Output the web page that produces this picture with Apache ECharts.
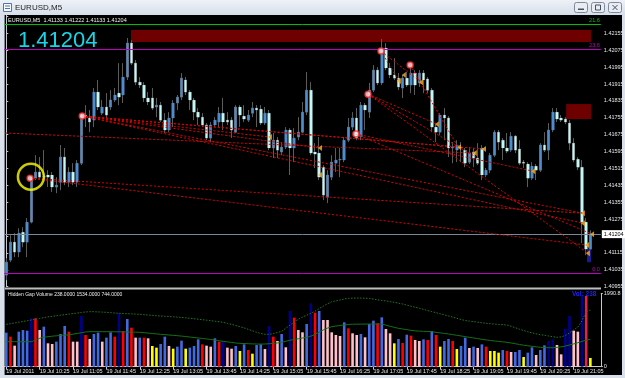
<!DOCTYPE html>
<html>
<head>
<meta charset="utf-8">
<script src="https://cdn.jsdelivr.net/npm/echarts@6/dist/echarts.min.js"></script>
<style>
html,body{margin:0;padding:0;background:#d9e0ea;}
#chart{width:625px;height:378px;}
</style>
</head>
<body>
<div id="chart"></div>
<script>
// EURUSD M5, 19 Jul 2011, 09:45 - 21:25
var times = [
  '09:45','09:50','09:55',
  '10:00','10:05','10:10','10:15','10:20','10:25','10:30','10:35','10:40','10:45','10:50','10:55',
  '11:00','11:05','11:10','11:15','11:20','11:25','11:30','11:35','11:40','11:45','11:50','11:55',
  '12:00','12:05','12:10','12:15','12:20','12:25','12:30','12:35','12:40','12:45','12:50','12:55',
  '13:00','13:05','13:10','13:15','13:20','13:25','13:30','13:35','13:40','13:45','13:50','13:55',
  '14:00','14:05','14:10','14:15','14:20','14:25','14:30','14:35','14:40','14:45','14:50','14:55',
  '15:00','15:05','15:10','15:15','15:20','15:25','15:30','15:35','15:40','15:45','15:50','15:55',
  '16:00','16:05','16:10','16:15','16:20','16:25','16:30','16:35','16:40','16:45','16:50','16:55',
  '17:00','17:05','17:10','17:15','17:20','17:25','17:30','17:35','17:40','17:45','17:50','17:55',
  '18:00','18:05','18:10','18:15','18:20','18:25','18:30','18:35','18:40','18:45','18:50','18:55',
  '19:00','19:05','19:10','19:15','19:20','19:25','19:30','19:35','19:40','19:45','19:50','19:55',
  '20:00','20:05','20:10','20:15','20:20','20:25','20:30','20:35','20:40','20:45','20:50','20:55',
  '21:00','21:05','21:10','21:15','21:20','21:25'
];
var spareTimes = ['21:30', '21:35'];   // empty space right of the last bar

var tickLabels = ['19 Jul 2011','19 Jul 10:25','19 Jul 11:05','19 Jul 11:45','19 Jul 12:25','19 Jul 13:05',
  '19 Jul 13:45','19 Jul 14:25','19 Jul 15:05','19 Jul 15:45','19 Jul 16:25','19 Jul 17:05',
  '19 Jul 17:45','19 Jul 18:25','19 Jul 19:05','19 Jul 19:45','19 Jul 20:25','19 Jul 21:05'];

var opens = [
  1.41010,1.41081,1.41166,1.41119,1.41213,1.41166,1.41261,1.41469,1.41498,1.41474,
  1.41484,1.41484,1.41427,1.41450,1.41569,1.41450,1.41498,1.41450,1.41540,1.41768,
  1.41754,1.41744,1.41877,1.41777,1.41806,1.41806,1.41839,1.41872,1.41863,1.41948,
  1.42109,1.42014,1.41924,1.41910,1.41849,1.41849,1.41806,1.41815,1.41744,1.41697,
  1.41754,1.41825,1.41853,1.41934,1.41877,1.41839,1.41782,1.41758,1.41721,1.41659,
  1.41721,1.41735,1.41777,1.41744,1.41744,1.41687,1.41806,1.41763,1.41744,1.41777,
  1.41801,1.41796,1.41730,1.41777,1.41612,1.41649,1.41593,1.41616,1.41697,1.41612,
  1.41664,1.41687,1.41782,1.41886,1.41593,1.41588,1.41521,1.41379,1.41474,1.41540,
  1.41555,1.41555,1.41649,1.41711,1.41754,1.41664,1.41815,1.41782,1.41886,1.41981,
  1.41920,1.42085,1.41991,1.41958,1.41943,1.41896,1.41943,1.41910,1.41967,1.41920,
  1.41967,1.41939,1.41886,1.41711,1.41687,1.41768,1.41754,1.41612,1.41602,1.41616,
  1.41602,1.41545,1.41593,1.41564,1.41612,1.41484,1.41507,1.41578,1.41687,1.41649,
  1.41612,1.41602,1.41668,1.41607,1.41545,1.41536,1.41469,1.41526,1.41507,1.41626,
  1.41602,1.41697,1.41782,1.41754,1.41749,1.41730,1.41635,1.41559,1.41521,1.41261,
  1.41133
];
var highs = [
  1.41090,1.41199,1.41209,1.41232,1.41237,1.41280,1.41474,1.41578,1.41569,1.41602,
  1.41507,1.41498,1.41474,1.41626,1.41612,1.41521,1.41540,1.41555,1.41777,1.41815,
  1.41792,1.41896,1.41934,1.41839,1.41872,1.41886,1.41896,1.42014,1.42014,1.42133,
  1.42123,1.42029,1.41948,1.41924,1.41877,1.41896,1.41849,1.41830,1.41777,1.41782,
  1.41839,1.41863,1.41967,1.41948,1.41886,1.41849,1.41801,1.41777,1.41730,1.41735,
  1.41758,1.41806,1.41849,1.41782,1.41758,1.41815,1.41815,1.41815,1.41792,1.41830,
  1.41815,1.41815,1.41806,1.41792,1.41683,1.41664,1.41640,1.41711,1.41706,1.41706,
  1.41758,1.41830,1.41972,1.41924,1.41635,1.41664,1.41531,1.41507,1.41578,1.41612,
  1.41612,1.41664,1.41754,1.41782,1.41801,1.41830,1.41825,1.41920,1.42005,1.41995,
  1.42128,1.42109,1.42014,1.42038,1.41967,1.41958,1.41972,1.41991,1.41981,1.41981,
  1.41981,1.41948,1.41896,1.41721,1.41777,1.41801,1.41763,1.41640,1.41649,1.41640,
  1.41612,1.41616,1.41612,1.41635,1.41626,1.41517,1.41588,1.41697,1.41697,1.41659,
  1.41683,1.41687,1.41673,1.41649,1.41555,1.41545,1.41545,1.41536,1.41635,1.41687,
  1.41730,1.41801,1.41801,1.41768,1.41758,1.41744,1.41659,1.41569,1.41555,1.41280,
  1.41222
];
var lows = [
  1.40986,1.41071,1.41095,1.41095,1.41142,1.41095,1.41255,1.41460,1.41460,1.41460,
  1.41427,1.41403,1.41398,1.41412,1.41436,1.41427,1.41436,1.41427,1.41531,1.41711,
  1.41687,1.41711,1.41792,1.41768,1.41754,1.41792,1.41830,1.41815,1.41825,1.41934,
  1.42005,1.41910,1.41896,1.41830,1.41815,1.41792,1.41758,1.41735,1.41683,1.41687,
  1.41711,1.41792,1.41839,1.41863,1.41792,1.41744,1.41721,1.41711,1.41649,1.41640,
  1.41711,1.41711,1.41697,1.41721,1.41659,1.41683,1.41711,1.41735,1.41735,1.41758,
  1.41711,1.41721,1.41721,1.41602,1.41564,1.41564,1.41578,1.41607,1.41484,1.41545,
  1.41649,1.41683,1.41768,1.41578,1.41517,1.41460,1.41365,1.41351,1.41460,1.41498,
  1.41474,1.41545,1.41640,1.41697,1.41649,1.41649,1.41697,1.41754,1.41877,1.41910,
  1.41910,1.41981,1.41943,1.41934,1.41886,1.41849,1.41901,1.41872,1.41863,1.41901,
  1.41872,1.41872,1.41687,1.41640,1.41673,1.41649,1.41569,1.41540,1.41545,1.41545,
  1.41521,1.41536,1.41521,1.41531,1.41460,1.41474,1.41493,1.41569,1.41602,1.41555,
  1.41588,1.41593,1.41588,1.41531,1.41517,1.41427,1.41460,1.41460,1.41498,1.41593,
  1.41555,1.41687,1.41735,1.41735,1.41725,1.41602,1.41545,1.41507,1.41161,1.41104,
  1.41133
];
var closes = [
  1.41071,1.41166,1.41119,1.41209,1.41166,1.41261,1.41469,1.41498,1.41474,1.41479,
  1.41474,1.41427,1.41436,1.41569,1.41450,1.41498,1.41450,1.41540,1.41768,1.41758,
  1.41735,1.41877,1.41806,1.41806,1.41768,1.41839,1.41863,1.41853,1.41948,1.42109,
  1.42014,1.41924,1.41910,1.41849,1.41830,1.41801,1.41815,1.41744,1.41697,1.41754,
  1.41825,1.41853,1.41943,1.41877,1.41839,1.41782,1.41758,1.41721,1.41659,1.41721,
  1.41744,1.41777,1.41735,1.41735,1.41697,1.41806,1.41768,1.41749,1.41768,1.41801,
  1.41792,1.41730,1.41777,1.41612,1.41649,1.41602,1.41616,1.41697,1.41612,1.41659,
  1.41687,1.41782,1.41886,1.41588,1.41583,1.41474,1.41389,1.41484,1.41545,1.41555,
  1.41559,1.41649,1.41711,1.41754,1.41659,1.41815,1.41792,1.41886,1.41981,1.41920,
  1.42085,1.41991,1.41958,1.41943,1.41901,1.41943,1.41910,1.41967,1.41910,1.41967,
  1.41934,1.41886,1.41711,1.41687,1.41768,1.41754,1.41612,1.41616,1.41626,1.41612,
  1.41540,1.41588,1.41564,1.41540,1.41484,1.41507,1.41578,1.41687,1.41640,1.41612,
  1.41597,1.41668,1.41602,1.41540,1.41540,1.41469,1.41526,1.41507,1.41626,1.41602,
  1.41697,1.41782,1.41749,1.41744,1.41735,1.41635,1.41555,1.41521,1.41261,1.41133,
  1.41204
];

// Hidden Gap Volume
var volumes = [
  926,817,572,953,998,980,1316,1316,998,1089,
  636,617,681,889,1107,953,681,681,1379,862,
  753,889,926,681,790,935,817,1452,971,1297,
  1062,790,790,790,772,563,518,617,817,563,
  490,545,708,490,518,563,744,608,572,545,
  772,681,699,518,490,563,427,608,454,354,
  590,608,481,1107,817,699,889,527,1515,1334,
  998,935,1161,1724,1470,1515,1270,1270,935,862,
  835,1207,1044,908,862,889,799,1161,1252,1180,
  1343,1025,908,636,753,645,871,844,726,699,
  744,726,971,862,545,699,753,699,481,563,
  790,509,545,509,608,545,427,427,382,454,
  427,400,400,454,264,382,527,318,454,581,
  699,744,590,336,1025,1379,980,953,1950,1923,
  238
];
// N navy, B blue, R red, P pink, Y yellow, C crimson
var volClass = [
  'B','R','P','B','B','B','N','R','P','B',
  'P','P','B','B','B','R','P','P','N','R',
  'P','B','B','P','B','B','R','N','R','B',
  'R','P','B','R','P','Y','Y','B','B','P',
  'Y','B','B','Y','B','B','B','R','P','P',
  'B','R','N','P','P','B','Y','B','R','Y',
  'B','B','P','N','R','P','B','P','N','R',
  'P','P','B','N','R','B','P','P','P','P',
  'P','B','R','P','P','B','P','B','B','R',
  'B','P','P','Y','B','R','B','R','P','P',
  'B','R','B','R','Y','B','B','R','Y','B',
  'B','P','B','P','B','R','Y','Y','Y','B',
  'R','P','B','B','Y','B','B','P','B','B',
  'N','N','P','P','N','N','P','P','N','C',
  'Y'
];
var volUpper = [
  1153,1170,1190,1210,1230,1250,1270,1290,1310,1335,
  1355,1370,1385,1400,1415,1430,1445,1460,1475,1488,
  1496,1495,1490,1485,1478,1469,1460,1452,1447,1441,
  1436,1430,1425,1415,1405,1396,1387,1379,1372,1365,
  1358,1350,1340,1330,1318,1305,1292,1278,1265,1250,
  1238,1224,1205,1180,1150,1120,1088,1055,1015,975,
  935,905,882,880,900,930,960,1050,1130,1210,
  1290,1350,1400,1450,1510,1580,1650,1710,1768,1790,
  1815,1840,1860,1865,1868,1866,1862,1858,1840,1820,
  1800,1790,1770,1750,1728,1705,1675,1645,1618,1590,
  1560,1528,1496,1468,1440,1410,1380,1350,1315,1285,
  1255,1240,1225,1210,1195,1180,1170,1160,1150,1142,
  1134,1100,1060,1020,985,950,920,895,870,855,
  835,815,800,810,850,920,1000,1080,1250,1500,
  1534
];
var volAverage = [
  680,680,680,680,680,680,680,720,772,800,
  815,830,840,850,858,865,885,905,925,945,
  952,952,952,952,952,952,950,948,946,944,
  942,939,936,925,914,903,892,881,872,862,
  853,844,833,820,807,794,781,768,755,740,
  725,705,690,675,660,645,636,630,625,620,
  617,615,617,625,635,645,660,690,720,740,
  760,780,795,830,880,940,1000,1050,1088,1105,
  1120,1135,1150,1155,1157,1158,1160,1160,1160,1161,
  1160,1130,1100,1070,1044,1025,1008,990,975,968,
  962,957,952,935,920,905,890,872,855,836,
  818,800,782,764,745,728,714,700,688,676,
  664,645,625,605,585,570,555,540,528,520,
  517,517,525,540,563,590,620,653,690,720,
  744
];

// horizontal levels
var levelGreen = 1.42198, levelTop = 1.42079, levelZero = 1.41019, bid = 1.41204;

// zones [barFrom, priceTop, barTo, priceBottom]
var redZones = [[29.9, 1.42171, 140.15, 1.42114], [134.2, 1.41820, 140.15, 1.41749]];
var blueZones = [[139.2, 1.41137, 140.2, 1.41071]];

// trend lines as [bar, price] pairs
var trendLines = [
  [[-0.3, 1.41683], [112.1, 1.41588]],
  [[5.7, 1.41469], [139.2, 1.41152]],
  [[5.7, 1.41469], [138.2, 1.41303]],
  [[18.2, 1.41763], [108.5, 1.41616]],
  [[18.2, 1.41763], [114.5, 1.41607]],
  [[18.2, 1.41763], [138.2, 1.41303]],
  [[18.2, 1.41763], [138.2, 1.41256]],
  [[18.2, 1.41763], [63.2, 1.41664]],
  [[18.2, 1.41763], [75.2, 1.41612]],
  [[86.7, 1.41867], [103.2, 1.41725]],
  [[86.7, 1.41867], [112.6, 1.41569]],
  [[86.7, 1.41867], [139.4, 1.41114]],
  [[89.8, 1.42071], [99.4, 1.41924]],
  [[89.8, 1.42071], [94.1, 1.41929]],
  [[83.8, 1.41678], [126.3, 1.41502]],
  [[83.8, 1.41678], [140.4, 1.41204]],
  [[96.8, 1.42005], [108.3, 1.41616]]
];
var redMarks = [[5.7, 1.41469], [18.2, 1.41763], [83.8, 1.41678], [86.7, 1.41867], [89.8, 1.42071], [96.8, 1.42005]];
var arrowMarks = [[63.2, 1.41664], [75.2, 1.41612], [75.2, 1.41484], [94.1, 1.41929], [95.3, 1.41958],
  [99.4, 1.41924], [103.2, 1.41725], [108.5, 1.41616], [112.3, 1.41588], [114.5, 1.41607],
  [126.3, 1.41502], [138.2, 1.41303], [138.2, 1.41256], [140.4, 1.41204], [139.2, 1.41152], [139.4, 1.41114]];
var circleMark = [[5.9, 1.41476]];

// ---- styles ----
var bullColor = '#4f8ccc', bearColor = '#c4f6f6', wickColor = '#5c5c5c';
var volPalette = {N: '#00008b', B: '#4169e1', R: '#ff0000', P: '#ffc0cb', Y: '#ffff00', C: '#e8204c'};
var tinyFont = 'Liberation Sans';

var chart = echarts.init(document.getElementById('chart'));

var cats = times.concat(spareTimes);
var wickData = [], bodyData = [];
for (var i = 0; i < opens.length; i++) {
    wickData.push([opens[i], closes[i], lows[i], highs[i]]);
    bodyData.push([opens[i], closes[i], Math.min(opens[i], closes[i]), Math.max(opens[i], closes[i])]);
}
var volData = volumes.map(function (v, k) {
    return {value: v, itemStyle: {color: volPalette[volClass[k]]}};
});

function zone(z, fill, stroke) {
    return [{xAxis: z[0], yAxis: z[1], itemStyle: {color: fill, borderColor: stroke, borderWidth: stroke ? 1 : 0}},
            {xAxis: z[2], yAxis: z[3]}];
}

function levelLine(v, color, text) {
    return {yAxis: v, lineStyle: {color: color, width: 1, type: 'solid'},
        label: {show: true, position: 'insideEndTop', formatter: text, color: color,
                fontSize: 5.5, fontFamily: tinyFont, distance: 1}};
}

var tickEvery8 = function (idx) { return idx % 8 === 0 && idx <= 136; };

var series = [
    {   // zones
        type: 'scatter', xAxisIndex: 1, yAxisIndex: 0, data: [], silent: true, z: 1,
        markArea: {silent: true, precision: 6, data: redZones.map(function (z) { return zone(z, '#6e0000'); })
            .concat(blueZones.map(function (z) { return zone(z, '#1c1c8a'); }))}
    },
    {   // wicks
        type: 'candlestick', xAxisIndex: 0, yAxisIndex: 0, data: wickData, barWidth: 2, z: 3, silent: true,
        itemStyle: {color: wickColor, color0: wickColor, borderColor: wickColor, borderColor0: wickColor,
                    borderColorDoji: wickColor, borderWidth: 1},
        markLine: {symbol: 'none', silent: true, animation: false, precision: 6, data: [
            levelLine(levelGreen, '#00c000', '21.6'),
            levelLine(levelTop, '#c000c0', '23.6'),
            levelLine(levelZero, '#c000c0', '0.0'),
            {yAxis: bid, lineStyle: {color: '#778899', width: 1, type: 'solid'},
             label: {show: true, position: 'end', formatter: bid.toFixed(5), color: '#000', backgroundColor: '#fff',
                     fontSize: 5.5, fontFamily: tinyFont, padding: [1, 2], distance: 1}}
        ]}
    },
    {   // bodies
        type: 'candlestick', xAxisIndex: 0, yAxisIndex: 0, data: bodyData, barWidth: 3, z: 4, silent: true,
        itemStyle: {color: bullColor, color0: bearColor, borderColor: bullColor, borderColor0: bearColor,
                    borderColorDoji: bearColor, borderWidth: 0}
    },
    {   // volume histogram
        type: 'bar', xAxisIndex: 2, yAxisIndex: 1, data: volData, barWidth: 2.6, silent: true, z: 2
    },
    {
        type: 'line', xAxisIndex: 2, yAxisIndex: 1, data: volUpper, symbol: 'none', silent: true, z: 3,
        lineStyle: {color: '#1c7a1c', width: 1, type: [1.5, 1.5]}
    },
    {
        type: 'line', xAxisIndex: 2, yAxisIndex: 1, data: volAverage, symbol: 'none', silent: true, z: 3,
        lineStyle: {color: '#157015', width: 1}
    }
];

trendLines.forEach(function (seg) {
    series.push({type: 'line', xAxisIndex: 1, yAxisIndex: 0, data: seg, symbol: 'none', silent: true, z: 6,
        lineStyle: {color: '#dd0000', width: 1, type: [2, 2]}});
});
series.push({type: 'scatter', xAxisIndex: 1, yAxisIndex: 0, data: arrowMarks, silent: true, z: 7,
    symbol: 'path://M0,4 L6,0 L6,8 Z', symbolSize: [4, 6], itemStyle: {color: '#ffb020'}});
series.push({type: 'scatter', xAxisIndex: 1, yAxisIndex: 0, data: redMarks, silent: true, z: 7,
    symbol: 'circle', symbolSize: 6, itemStyle: {color: '#fff0f0', borderColor: '#ff2a2a', borderWidth: 1.5}});
series.push({type: 'scatter', xAxisIndex: 1, yAxisIndex: 0, data: circleMark, silent: true, z: 8,
    symbol: 'circle', symbolSize: 26, itemStyle: {color: 'rgba(0,0,0,0)', borderColor: '#ffff00', borderWidth: 2.5}});

var axisGray = '#c8c8c8';

var option = {
    animation: false,
    backgroundColor: '#d9e0ea',
    grid: [
        {left: 4.2, width: 596.6, top: 15, height: 271.7, outerBoundsMode: 'none', containLabel: false},
        {left: 4.2, width: 596.6, top: 293.5, height: 73.2, outerBoundsMode: 'none', containLabel: false}
    ],
    xAxis: [
        {type: 'category', gridIndex: 0, data: cats, boundaryGap: true, show: false},
        {type: 'value', gridIndex: 0, min: -0.5, max: cats.length - 0.5, show: false},
        {type: 'category', gridIndex: 1, data: cats, boundaryGap: true,
         axisLine: {lineStyle: {color: axisGray}},
         axisTick: {show: true, interval: tickEvery8, alignWithLabel: true, length: 3, lineStyle: {color: axisGray}},
         axisLabel: {interval: tickEvery8, align: 'left', margin: 2, color: '#e6e6e6', fontSize: 5.5,
                     fontFamily: tinyFont, formatter: function (v, idx) { return tickLabels[idx / 8]; }},
         splitLine: {show: false}}
    ],
    yAxis: [
        {type: 'value', gridIndex: 0, position: 'right', min: 1.40955, max: 1.42242, interval: 0.0008,
         axisLine: {show: true, lineStyle: {color: axisGray}},
         axisTick: {show: true, length: 2, lineStyle: {color: axisGray}},
         splitLine: {show: false},
         axisLabel: {color: '#e6e6e6', fontSize: 5.5, fontFamily: tinyFont, margin: 3, showMaxLabel: false,
                     formatter: function (v) {
                         if (Math.abs(v - bid) < 0.0001 || v > 1.4220) return '';
                         return v.toFixed(5);
                     }}},
        {type: 'value', gridIndex: 1, position: 'right', min: 0, max: 1990.8, interval: 1990.8,
         axisLine: {show: true, lineStyle: {color: axisGray}},
         axisTick: {show: true, length: 2, lineStyle: {color: axisGray}},
         splitLine: {show: false},
         axisLabel: {color: '#e6e6e6', fontSize: 5.5, fontFamily: tinyFont, margin: 3,
                     formatter: function (v) { return v === 0 ? '0' : v.toFixed(1); }}}
    ],
    graphic: [
        {type: 'rect', shape: {x: 0, y: 0, width: 625, height: 15}, silent: true, z: 0,
         style: {fill: new echarts.graphic.LinearGradient(0, 0, 0, 1, [
             {offset: 0, color: '#eef2f7'}, {offset: 1, color: '#d6dee9'}])}},
        {type: 'rect', shape: {x: 5, y: 15, width: 617, height: 360}, silent: true, z: 0, style: {fill: '#000'}},
        {type: 'rect', shape: {x: 4, y: 15, width: 1, height: 360}, silent: true, z: 0, style: {fill: '#7c8896'}},
        {type: 'rect', shape: {x: 5, y: 287.4, width: 596, height: 2}, silent: true, z: 0, style: {fill: '#bdbdbd'}},
        // window icon and title
        {type: 'rect', shape: {x: 3.5, y: 3.5, width: 8, height: 8}, silent: true, z: 1,
         style: {fill: '#f5f8fc', stroke: '#4f76aa', lineWidth: 1}},
        {type: 'rect', shape: {x: 5, y: 5.5, width: 5, height: 1}, silent: true, z: 1, style: {fill: '#4f76aa'}},
        {type: 'rect', shape: {x: 5, y: 8, width: 5, height: 1}, silent: true, z: 1, style: {fill: '#4f76aa'}},
        {type: 'text', x: 15, y: 3.5, silent: true, z: 1,
         style: {text: 'EURUSD,M5', fill: '#1e1e1e', font: '8px Liberation Sans', verticalAlign: 'top'}},
        // window buttons
        {type: 'rect', shape: {x: 574.5, y: 2.5, width: 13, height: 10, r: 2}, silent: true, z: 1,
         style: {fill: '#e9edf3', stroke: '#7d8a99'}},
        {type: 'rect', shape: {x: 578, y: 8.5, width: 6, height: 1.5}, silent: true, z: 1, style: {fill: '#44505e'}},
        {type: 'rect', shape: {x: 591.5, y: 2.5, width: 13, height: 10, r: 2}, silent: true, z: 1,
         style: {fill: '#e9edf3', stroke: '#7d8a99'}},
        {type: 'rect', shape: {x: 595.5, y: 5, width: 5, height: 5}, silent: true, z: 1,
         style: {fill: 'none', stroke: '#44505e'}},
        {type: 'rect', shape: {x: 608.5, y: 2.5, width: 13, height: 10, r: 2}, silent: true, z: 1,
         style: {fill: '#e9edf3', stroke: '#7d8a99'}},
        {type: 'line', shape: {x1: 612.5, y1: 5, x2: 617.5, y2: 10}, silent: true, z: 1, style: {stroke: '#44505e'}},
        {type: 'line', shape: {x1: 617.5, y1: 5, x2: 612.5, y2: 10}, silent: true, z: 1, style: {stroke: '#44505e'}},
        // chart texts
        {type: 'text', x: 8, y: 17.5, silent: true, z: 50,
         style: {text: 'EURUSD,M5  1.41133 1.41222 1.41133 1.41204', fill: '#f0f0f0',
                 font: '5.5px Liberation Sans', verticalAlign: 'top'}},
        {type: 'text', x: 18, y: 30, silent: true, z: 50,
         style: {text: '1.41204', fill: '#19d6e6', font: '22px Liberation Sans', verticalAlign: 'top'}},
        {type: 'text', x: 8, y: 292.5, silent: true, z: 50,
         style: {text: 'Hidden Gap Volume 238.0000 1534.0000 744.0000', fill: '#f0f0f0',
                 font: '5px Liberation Sans', verticalAlign: 'top'}},
        {type: 'text', x: 572, y: 290.5, silent: true, z: 50,
         style: {text: 'Vol: 238', fill: '#2020f0', font: 'bold 6.5px Liberation Sans', verticalAlign: 'top'}}
    ],
    series: series
};

chart.setOption(option);
</script>
</body>
</html>
